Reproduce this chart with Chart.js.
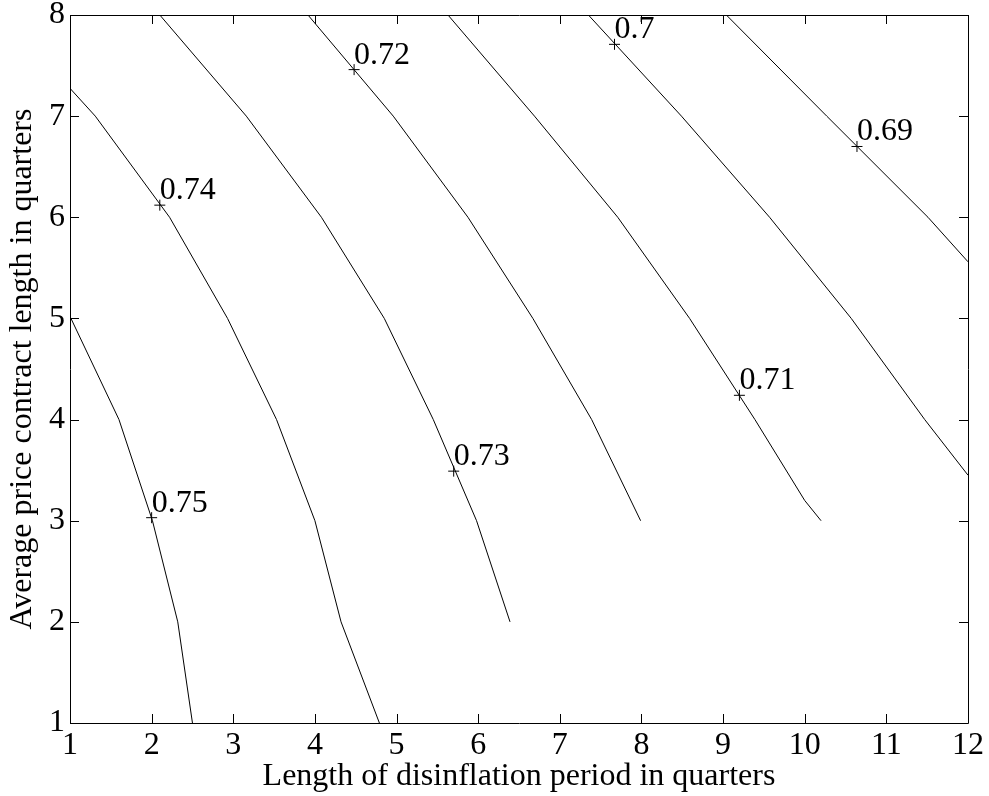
<!DOCTYPE html>
<html lang="en">
<head>
<meta charset="UTF-8">
<title>Disinflation contours</title>
<script src="https://cdn.jsdelivr.net/npm/chart.js"></script>
<style>
  html, body { margin: 0; padding: 0; background: #fff; }
  canvas { display: block; }
</style>
</head>
<body>
<canvas id="contourChart" width="989" height="796"></canvas>
<script>
const xTicks = [1, 2, 3, 4, 5, 6, 7, 8, 9, 10, 11, 12];
const yTicks = [1, 2, 3, 4, 5, 6, 7, 8];

// contour vertices [disinflation length, contract length]
const c075 = [[1, 5.02], [1.6, 4], [2.01, 3], [2.32, 2], [2.5, 1]];
const c074 = [[1, 7.275], [1.31, 7], [2.22, 6], [2.93, 5], [3.53, 4], [4.0, 3], [4.32, 2], [4.79, 1]];
const c073 = [[2.1, 8], [3.16, 7], [4.08, 6], [4.85, 5], [5.45, 4], [5.98, 3], [6.39, 2]];
const c072 = [[3.915, 8], [4.96, 7], [5.875, 6], [6.67, 5], [7.39, 4], [7.99, 3]];
const c071 = [[5.63, 8], [6.69, 7], [7.71, 6], [8.59, 5], [9.39, 4], [10.0, 3.2], [10.2, 3]];
const c070 = [[7.35, 8], [8.49, 7], [9.57, 6], [10.57, 5], [11.47, 4], [12, 3.45]];
const c069 = [[9.04, 8], [10.27, 7], [11.51, 6], [12, 5.56]];

// contour labels and where they sit
const levelText = ['0.75', '0.74', '0.73', '0.72', '0.71', '0.7', '0.69'];
const labelAt = [[2.0, 3.03], [2.1, 6.12], [5.7, 3.49], [4.48, 7.46], [9.2, 4.24], [7.67, 7.71], [10.64, 6.7]];

const serif = '"Liberation Serif", "Times New Roman", Times, serif';
const contours = [c075, c074, c073, c072, c071, c070, c069];

const toXY = pts => pts.map(p => ({ x: p[0], y: p[1] }));

const datasets = contours.map(pts => ({
    data: toXY(pts),
    showLine: true,
    borderColor: '#000',
    borderWidth: 1,
    pointRadius: 0,
    tension: 0
}));
datasets.push({
    data: toXY(labelAt),
    showLine: false,
    pointStyle: 'cross',
    pointRadius: 5.5,
    borderColor: '#000',
    borderWidth: 1
});

// box round the plot, inward ticks on all four sides, contour labels
const matlabBox = {
    id: 'matlabBox',
    afterDatasetsDraw(chart) {
        const { ctx, chartArea: a, scales: { x, y } } = chart;
        ctx.save();
        ctx.strokeStyle = '#000';
        ctx.lineWidth = 1;
        ctx.beginPath();
        ctx.rect(a.left + 0.5, a.top + 0.5, a.right - a.left, a.bottom - a.top);
        xTicks.forEach(v => {
            const px = Math.round(x.getPixelForValue(v)) + 0.5;
            ctx.moveTo(px, a.bottom); ctx.lineTo(px, a.bottom - 9);
            ctx.moveTo(px, a.top); ctx.lineTo(px, a.top + 9);
        });
        yTicks.forEach(v => {
            const py = Math.round(y.getPixelForValue(v)) + 0.5;
            ctx.moveTo(a.left, py); ctx.lineTo(a.left + 9, py);
            ctx.moveTo(a.right, py); ctx.lineTo(a.right - 9, py);
        });
        ctx.stroke();

        ctx.fillStyle = '#000';
        ctx.font = '32px ' + serif;
        ctx.textAlign = 'left';
        ctx.textBaseline = 'alphabetic';
        labelAt.forEach((p, i) => {
            ctx.fillText(levelText[i], x.getPixelForValue(p[0]), y.getPixelForValue(p[1]) - 6);
        });
        ctx.restore();
    }
};

new Chart(document.getElementById('contourChart'), {
    type: 'scatter',
    data: { datasets },
    options: {
        responsive: false,
        animation: false,
        devicePixelRatio: 1,
        layout: { padding: { top: 15, right: 21, left: 0, bottom: 0 } },
        plugins: { legend: { display: false }, tooltip: { enabled: false } },
        scales: {
            x: {
                type: 'linear',
                min: 1, max: 12,
                afterBuildTicks: s => { s.ticks = xTicks.map(v => ({ value: v })); },
                afterFit: s => { s.height = 73; s.paddingLeft = 0; s.paddingRight = 0; },
                grid: { display: false, drawTicks: false },
                border: { display: false },
                ticks: { color: '#000', padding: 7, maxRotation: 0, autoSkip: false,
                         font: { family: serif, size: 32, lineHeight: 1 } },
                title: { display: true, text: 'Length of disinflation period in quarters', color: '#000',
                         font: { family: serif, size: 32, lineHeight: 1 }, padding: { top: 0, bottom: 3 } }
            },
            y: {
                type: 'linear',
                min: 1, max: 8,
                afterBuildTicks: s => { s.ticks = yTicks.map(v => ({ value: v })); },
                afterFit: s => { s.width = 70; s.paddingTop = 0; s.paddingBottom = 0; },
                grid: { display: false, drawTicks: false },
                border: { display: false },
                ticks: { color: '#000', padding: 5, autoSkip: false,
                         font: { family: serif, size: 32, lineHeight: 1 } },
                title: { display: true, text: 'Average price contract length in quarters', color: '#000',
                         font: { family: serif, size: 32, lineHeight: 1 }, padding: { top: 7, bottom: 0 } }
            }
        }
    },
    plugins: [matlabBox]
});
</script>
</body>
</html>
